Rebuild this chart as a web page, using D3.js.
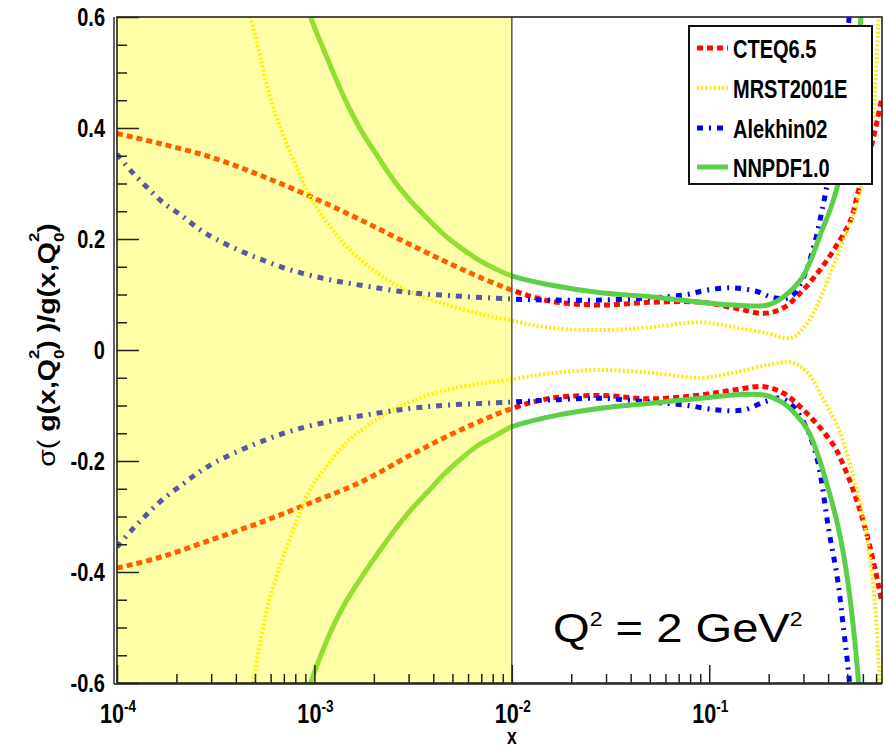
<!DOCTYPE html>
<html>
<head>
<meta charset="utf-8">
<script src="https://cdn.jsdelivr.net/npm/d3@7"></script>
<style>
  html, body { margin: 0; padding: 0; background: #fff; }
  svg { display: block; }
  text { font-family: "Liberation Sans", Arial, Helvetica, sans-serif; white-space: pre; }
</style>
</head>
<body>
<svg id="chart" width="885" height="748"></svg>
<script>
// Relative gluon uncertainty sigma(g)/g at Q0^2 = 2 GeV^2, upper and lower edges, as [x, value]
const cteqUpper = [[1e-4,0.39],[1.65e-4,0.372],[2.96e-4,0.348],[5.3e-4,0.315],[9.5e-4,0.277],[1.7e-3,0.235],
  [3.05e-3,0.19],[5.47e-3,0.147],[9.8e-3,0.109],[0.0157,0.088],[0.0282,0.081],[0.0506,0.086],[0.0906,0.086],
  [0.133,0.076],[0.189,0.066],[0.238,0.076],[0.29,0.103],[0.354,0.139],[0.427,0.18],[0.52,0.234],[0.571,0.288],
  [0.62,0.33],[0.669,0.373],[0.75,0.455]];
const cteqLower = [[1e-4,-0.393],[1.67e-4,-0.373],[3e-4,-0.342],[5.4e-4,-0.31],[9.3e-4,-0.277],[1.72e-3,-0.238],
  [3.08e-3,-0.189],[5.5e-3,-0.144],[9.9e-3,-0.106],[0.0157,-0.087],[0.0282,-0.082],[0.0506,-0.088],[0.0906,-0.081],
  [0.133,-0.072],[0.189,-0.066],[0.238,-0.078],[0.29,-0.103],[0.354,-0.135],[0.427,-0.172],[0.474,-0.204],
  [0.552,-0.265],[0.62,-0.324],[0.681,-0.384],[0.75,-0.455]];

const mrstUpper = [[4.4e-4,0.66],[4.77e-4,0.598],[5.36e-4,0.523],[6.02e-4,0.45],[7.01e-4,0.384],[8.25e-4,0.324],
  [9.6e-4,0.273],[1.17e-3,0.228],[1.41e-3,0.192],[1.72e-3,0.162],[2.1e-3,0.138],[2.53e-3,0.119],[3.08e-3,0.104],
  [4.53e-3,0.083],[6.73e-3,0.066],[9.89e-3,0.053],[0.0157,0.04],[0.0282,0.036],[0.0506,0.041],[0.0906,0.05],
  [0.133,0.041],[0.198,0.03],[0.259,0.022],[0.315,0.049],[0.38,0.108],[0.463,0.186],[0.539,0.245],[0.585,0.29],
  [0.63,0.35],[0.681,0.432],[0.697,0.492],[0.713,0.559],[0.721,0.6],[0.73,0.65]];
const mrstLower = [[4.5e-4,-0.66],[4.89e-4,-0.598],[5.36e-4,-0.519],[6.02e-4,-0.441],[7.01e-4,-0.369],
  [8.25e-4,-0.303],[9.6e-4,-0.249],[1.17e-3,-0.207],[1.41e-3,-0.171],[1.72e-3,-0.145],[2.1e-3,-0.124],
  [2.53e-3,-0.107],[3.08e-3,-0.093],[4.53e-3,-0.073],[6.73e-3,-0.061],[9.89e-3,-0.053],[0.0157,-0.042],
  [0.0282,-0.036],[0.0506,-0.041],[0.0906,-0.05],[0.133,-0.041],[0.198,-0.027],[0.259,-0.022],[0.315,-0.041],
  [0.38,-0.09],[0.45,-0.14],[0.52,-0.21],[0.598,-0.294],[0.657,-0.384],[0.697,-0.474],[0.721,-0.564],[0.74,-0.62]];

const alekhinUpper = [[1e-4,0.353],[1.19e-4,0.321],[1.41e-4,0.294],[1.72e-4,0.265],[2.13e-4,0.242],[2.58e-4,0.219],
  [3.2e-4,0.199],[4.96e-4,0.168],[7.76e-4,0.143],[1.22e-3,0.126],[1.91e-3,0.114],[3.11e-3,0.103],[4.87e-3,0.098],
  [9.8e-3,0.092],[0.0157,0.09],[0.0282,0.09],[0.0506,0.094],[0.0743,0.099],[0.098,0.108],[0.133,0.112],[0.176,0.105],
  [0.212,0.094],[0.259,0.096],[0.301,0.132],[0.338,0.186],[0.367,0.24],[0.389,0.285],[0.45,0.42],[0.508,0.59],
  [0.53,0.65]];
const alekhinLower = [[1e-4,-0.355],[1.19e-4,-0.324],[1.41e-4,-0.297],[1.72e-4,-0.268],[2.13e-4,-0.243],
  [2.58e-4,-0.221],[3.2e-4,-0.201],[4.96e-4,-0.17],[7.76e-4,-0.145],[1.22e-3,-0.128],[1.91e-3,-0.116],
  [3.11e-3,-0.105],[4.87e-3,-0.099],[9.8e-3,-0.094],[0.0157,-0.09],[0.0282,-0.087],[0.0506,-0.094],[0.0743,-0.099],
  [0.11,-0.108],[0.15,-0.108],[0.189,-0.094],[0.23,-0.087],[0.268,-0.103],[0.315,-0.145],[0.354,-0.2],[0.403,-0.324],
  [0.447,-0.414],[0.48,-0.505],[0.502,-0.564],[0.52,-0.62]];

const nnpdfUpper = [[8.8e-4,0.64],[9.6e-4,0.598],[1.17e-3,0.523],[1.41e-3,0.456],[1.72e-3,0.396],[2.1e-3,0.348],
  [2.53e-3,0.305],[3.08e-3,0.268],[3.76e-3,0.236],[4.53e-3,0.208],[5.52e-3,0.184],[6.73e-3,0.163],[8.2e-3,0.147],
  [9.89e-3,0.134],[0.0157,0.117],[0.0282,0.103],[0.0506,0.096],[0.0906,0.086],[0.133,0.081],[0.198,0.081],
  [0.238,0.096],[0.29,0.126],[0.327,0.162],[0.367,0.21],[0.412,0.255],[0.45,0.3],[0.5,0.37],[0.533,0.43],
  [0.565,0.52],[0.585,0.595],[0.6,0.65]];
const nnpdfLower = [[8.8e-4,-0.64],[9.6e-4,-0.598],[1.17e-3,-0.519],[1.41e-3,-0.46],[1.72e-3,-0.411],
  [2.1e-3,-0.366],[2.53e-3,-0.326],[3.08e-3,-0.288],[3.76e-3,-0.255],[4.53e-3,-0.224],[5.52e-3,-0.196],
  [6.73e-3,-0.172],[8.2e-3,-0.155],[9.89e-3,-0.139],[0.0157,-0.12],[0.0282,-0.105],[0.0506,-0.096],[0.0906,-0.087],
  [0.133,-0.081],[0.189,-0.081],[0.238,-0.096],[0.29,-0.126],[0.315,-0.144],[0.338,-0.168],[0.389,-0.234],
  [0.453,-0.324],[0.502,-0.414],[0.539,-0.505],[0.571,-0.6],[0.585,-0.65]];

const setNames = ["CTEQ6.5", "MRST2001E", "Alekhin02", "NNPDF1.0"];
const xMajorTicks = [1e-4, 1e-3, 1e-2, 1e-1];
const xTickExponents = ["-4", "-3", "-2", "-1"];
const yMajorTicks = [-0.6, -0.4, -0.2, 0, 0.2, 0.4, 0.6];
const yTickLabels = ["-0.6", "-0.4", "-0.2", "0", "0.2", "0.4", "0.6"];
const xDomain = [1e-4, 0.75];
const yDomain = [-0.6, 0.6];
const shadedRange = [1e-4, 1e-2];   // small-x region without data constraints

// Line styles for each PDF set
const styles = {
  "CTEQ6.5":   { color: "#ff0a00", width: 5, dash: "6,4" },
  "MRST2001E": { color: "#ffea00", width: 4, dash: "2,2.2" },
  "Alekhin02": { color: "#0000ff", width: 5, dash: "6,6,2,6" },
  "NNPDF1.0":  { color: "#5ccf4a", width: 5, dash: null }
};
const bands = [
  { name: "CTEQ6.5",   upper: cteqUpper,    lower: cteqLower },
  { name: "MRST2001E", upper: mrstUpper,    lower: mrstLower },
  { name: "Alekhin02", upper: alekhinUpper, lower: alekhinLower },
  { name: "NNPDF1.0",  upper: nnpdfUpper,   lower: nnpdfLower }
];

const svg = d3.select("#chart");
const frame = { left: 117, right: 882, top: 17, bottom: 683 };

const x = d3.scaleLog().domain(xDomain).range([frame.left, frame.right]);
const y = d3.scaleLinear().domain(yDomain).range([frame.bottom, frame.top]);

svg.append("defs").append("clipPath").attr("id", "plot-clip")
  .append("rect")
  .attr("x", frame.left).attr("y", frame.top)
  .attr("width", frame.right - frame.left).attr("height", frame.bottom - frame.top);

// Curves
const line = d3.line().x(d => x(d[0])).y(d => y(d[1])).curve(d3.curveCatmullRom.alpha(0.5));
const curves = svg.append("g").attr("clip-path", "url(#plot-clip)");
bands.forEach(b => {
  const st = styles[b.name];
  [b.upper, b.lower].forEach(pts => {
    curves.append("path")
      .attr("d", line(pts))
      .attr("fill", "none")
      .attr("stroke", st.color)
      .attr("stroke-width", st.width)
      .attr("stroke-dasharray", st.dash)
      .attr("stroke-linejoin", "round");
  });
});

// Translucent yellow band over the small-x region
svg.append("rect")
  .attr("x", x(shadedRange[0])).attr("y", frame.top)
  .attr("width", x(shadedRange[1]) - x(shadedRange[0]))
  .attr("height", frame.bottom - frame.top)
  .attr("fill", "#ffff00").attr("fill-opacity", 0.34);
svg.append("line")
  .attr("x1", x(shadedRange[1])).attr("x2", x(shadedRange[1]))
  .attr("y1", frame.top).attr("y2", frame.bottom)
  .attr("stroke", "#555").attr("stroke-width", 1.5);

// Axes ticks (drawn inward)
const xMinorTicks = [];
for (let e = -4; e <= -1; e++) {
  for (let m = 2; m <= 9; m++) {
    const v = m * Math.pow(10, e);
    if (v <= xDomain[1]) xMinorTicks.push(v);
  }
}
const yMinorTicks = d3.range(-0.55, 0.6, 0.05).filter(v => Math.abs(Math.round(v * 100) % 20) !== 0);

function styleAxis(g) {
  g.select(".domain").remove();
  g.selectAll(".tick line").attr("stroke", "#222").attr("stroke-width", 1.5);
}
svg.append("g").attr("transform", `translate(${frame.left},0)`)
  .call(d3.axisLeft(y).tickValues(yMajorTicks).tickSizeInner(-22).tickSizeOuter(0).tickFormat(""))
  .call(styleAxis);
svg.append("g").attr("transform", `translate(${frame.left},0)`)
  .call(d3.axisLeft(y).tickValues(yMinorTicks).tickSizeInner(-10).tickSizeOuter(0).tickFormat(""))
  .call(styleAxis);
svg.append("g").attr("transform", `translate(0,${frame.bottom})`)
  .call(d3.axisBottom(x).tickValues(xMajorTicks).tickSizeInner(-18).tickSizeOuter(0).tickFormat(""))
  .call(styleAxis);
svg.append("g").attr("transform", `translate(0,${frame.bottom})`)
  .call(d3.axisBottom(x).tickValues(xMinorTicks).tickSizeInner(-9).tickSizeOuter(0).tickFormat(""))
  .call(styleAxis);

// Frame
svg.append("rect")
  .attr("x", frame.left).attr("y", frame.top)
  .attr("width", frame.right - frame.left).attr("height", frame.bottom - frame.top)
  .attr("fill", "none").attr("stroke", "#222").attr("stroke-width", 1.6);
svg.append("line")
  .attr("x1", frame.left - 3).attr("x2", frame.left - 3)
  .attr("y1", frame.top).attr("y2", frame.bottom + 1)
  .attr("stroke", "#222").attr("stroke-width", 1.4);
svg.append("line")
  .attr("x1", frame.left - 3).attr("x2", frame.right)
  .attr("y1", frame.bottom + 1).attr("y2", frame.bottom + 1)
  .attr("stroke", "#222").attr("stroke-width", 1.4);

// Tick labels
svg.append("g").selectAll("text")
  .data(yMajorTicks)
  .join("text")
  .attr("transform", (d) => `translate(105,${y(d) + 9}) scale(0.8,1)`)
  .attr("text-anchor", "end")
  .attr("font-size", 25).attr("font-weight", "bold").attr("fill", "#000")
  .text((d, i) => yTickLabels[i]);

const xl = svg.append("g").selectAll("text")
  .data(xMajorTicks)
  .join("text")
  .attr("transform", d => `translate(${x(d) + 1},723) scale(0.8,1)`)
  .attr("text-anchor", "middle")
  .attr("font-weight", "bold").attr("fill", "#000");
xl.append("tspan").attr("font-size", 27).text("10");
xl.append("tspan").attr("font-size", 17).attr("dy", -11).text((d, i) => xTickExponents[i]);

// Axis titles
svg.append("text")
  .attr("transform", `translate(${x(1e-2)},744) scale(0.8,1)`)
  .attr("text-anchor", "middle")
  .attr("font-size", 22).attr("font-weight", "bold").text("x");

const yt = svg.append("text")
  .attr("transform", `translate(55,345) scale(0.82,1) rotate(-90)`)
  .attr("text-anchor", "middle")
  .attr("font-size", 28.5).attr("font-weight", "bold").attr("fill", "#000");
function qZeroSquared(t) {
  t.append("tspan").attr("font-size", 17).attr("dy", -20).text("2");
  t.append("tspan").attr("font-size", 17).attr("dx", -9.5).attr("dy", 31).text("0");
}
yt.append("tspan").attr("font-weight", "normal").text("\u03c3(");
yt.append("tspan").text(" g(x,Q");
qZeroSquared(yt);
yt.append("tspan").attr("dy", -11).text(") )/g(x,Q");
qZeroSquared(yt);
yt.append("tspan").attr("dy", -11).text(")");

// Scale annotation
const ann = svg.append("text")
  .attr("transform", "translate(553,642) scale(1.15,1)")
  .attr("font-size", 41).attr("fill", "#000");
ann.append("tspan").text("Q");
ann.append("tspan").attr("font-size", 20).attr("dy", -16).text("2");
ann.append("tspan").attr("dy", 16).text(" = 2 GeV");
ann.append("tspan").attr("font-size", 20).attr("dy", -16).text("2");

// Legend
const legend = svg.append("g");
legend.append("rect")
  .attr("x", 689).attr("y", 26).attr("width", 183).attr("height", 158)
  .attr("fill", "#fff").attr("stroke", "#111").attr("stroke-width", 2);
const rowBaselines = [58, 98, 138, 177];
setNames.forEach((name, i) => {
  const st = styles[name];
  const base = rowBaselines[i];
  legend.append("line")
    .attr("x1", 697).attr("x2", 728)
    .attr("y1", base - 10).attr("y2", base - 10)
    .attr("stroke", st.color).attr("stroke-width", st.width)
    .attr("stroke-dasharray", st.dash);
  legend.append("text")
    .attr("transform", `translate(733,${base}) scale(0.8,1)`)
    .attr("font-size", 25).attr("font-weight", "bold").attr("fill", "#000")
    .text(name);
});
</script>
</body>
</html>
